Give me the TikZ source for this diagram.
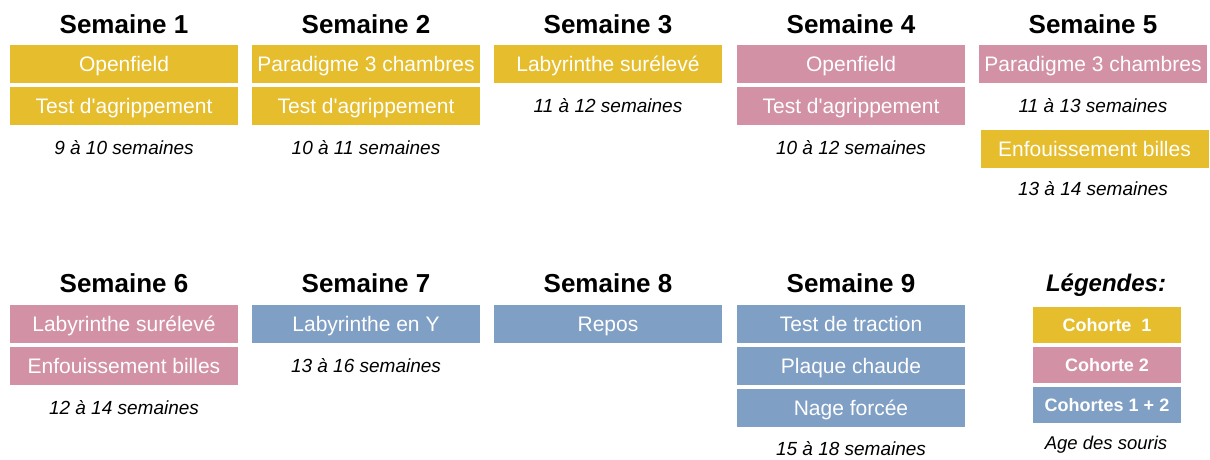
\documentclass[tikz,border=0pt]{standalone}
\usepackage{fontspec}
\setmainfont{Liberation Sans}
\definecolor{cohorteun}{HTML}{E5BD2D}
\definecolor{cohortedeux}{HTML}{D291A5}
\definecolor{cohortes}{HTML}{7F9FC4}
\tikzset{
  titre/.style={font=\fontsize{26}{30}\bfseries\selectfont, inner sep=0pt,
    text height=18.7pt, text depth=0pt},
  test/.style={minimum width=228pt, minimum height=38pt, inner sep=0pt, text=white,
    font=\fontsize{21}{25}\selectfont, text height=16pt, text depth=1pt},
  jaune/.style={test, fill=cohorteun},
  rose/.style={test, fill=cohortedeux},
  bleu/.style={test, fill=cohortes},
  age/.style={font=\fontsize{19}{23}\itshape\selectfont, inner sep=0pt,
    text height=13.6pt, text depth=0pt},
  legende/.style={minimum width=148pt, minimum height=36pt, inner sep=0pt, text=white,
    font=\fontsize{18}{22}\bfseries\selectfont, text height=13.5pt, text depth=0.5pt}
}
\begin{document}
\begin{tikzpicture}[x=1pt,y=-1pt]
\useasboundingbox (0,0) rectangle (1210,459);
\foreach \n/\x/\y in {1/124/24, 2/366/24, 3/608/24, 4/851/24, 5/1093/24,
                      6/124/283, 7/366/283, 8/608/283, 9/851/283}
   \node[titre] (s\n) at (\x,\y) {Semaine \n};

\node[jaune] (s1a) at (124,64) {Openfield};
\node[jaune] (s1b) at (124,105.5) {Test d\textquotesingle agrippement};
\node[age] (a1) at (124,148) {9 à 10 semaines};

\node[jaune] (s2a) at (366,64) {Paradigme 3 chambres};
\node[jaune] (s2b) at (366,105.5) {Test d\textquotesingle agrippement};
\node[age] (a2) at (366,148) {10 à 11 semaines};

\node[jaune] (s3a) at (608,64) {Labyrinthe surélevé};
\node[age] (a3) at (608,106) {11 à 12 semaines};

\node[rose] (s4a) at (851,64) {Openfield};
\node[rose] (s4b) at (851,105.5) {Test d\textquotesingle agrippement};
\node[age] (a4) at (851,148) {10 à 12 semaines};

\node[rose] (s5a) at (1093,64) {Paradigme 3 chambres};
\node[age] (a5a) at (1093,106) {11 à 13 semaines};
\node[jaune] (s5b) at (1094.5,148.5) {Enfouissement billes};
\node[age] (a5b) at (1093,189) {13 à 14 semaines};

\node[rose] (s6a) at (124,323.5) {Labyrinthe surélevé};
\node[rose] (s6b) at (124,366) {Enfouissement billes};
\node[age] (a6) at (124,408) {12 à 14 semaines};

\node[bleu] (s7a) at (366,323.5) {Labyrinthe en Y};
\node[age] (a7) at (366,366) {13 à 16 semaines};

\node[bleu] (s8a) at (608,323.5) {Repos};

\node[bleu] (s9a) at (851,323.5) {Test de traction};
\node[bleu] (s9b) at (851,366) {Plaque chaude};
\node[bleu] (s9c) at (851,408) {Nage forcée};
\node[age] (a9) at (851,449) {15 à 18 semaines};

\node[titre, font=\fontsize{24}{28}\bfseries\itshape\selectfont, text height=17.5pt] (leg) at (1106,283) {Légendes:};
\node[legende, fill=cohorteun] (l1) at (1107,325) {Cohorte\ \ 1};
\node[legende, fill=cohortedeux] (l2) at (1107,364.5) {Cohorte 2};
\node[legende, fill=cohortes] (l3) at (1107,405) {Cohortes 1 + 2};
\node[age, font=\fontsize{18.5}{22}\itshape\selectfont] (la) at (1106,443) {Age des souris};
\end{tikzpicture}
\end{document}
